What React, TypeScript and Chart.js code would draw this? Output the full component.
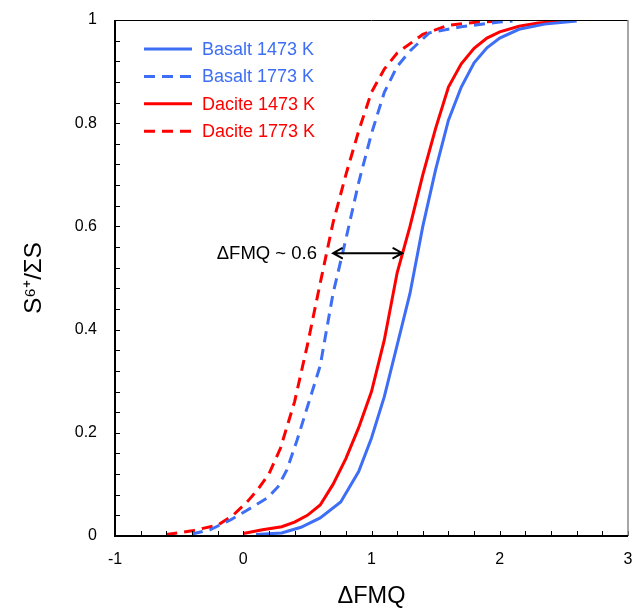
import React, { useEffect, useRef } from 'react';
import { Chart, registerables } from 'chart.js';

Chart.register(...registerables);

const FONT = '"Liberation Sans", Arial, Helvetica, sans-serif';
const BLUE = '#3D6EF5';
const RED = '#FF0000';

// ---- Data ----
const seriesLabels = ['Basalt 1473 K', 'Basalt 1773 K', 'Dacite 1473 K', 'Dacite 1773 K'];

const basalt1473X = [0.1, 0.3, 0.45, 0.6, 0.76, 0.9, 1.0, 1.1, 1.2, 1.3, 1.4, 1.5, 1.6, 1.7, 1.8, 1.9, 2.0, 2.15, 2.35, 2.6];
const basalt1473Y = [0.003, 0.006, 0.017, 0.035, 0.066, 0.125, 0.19, 0.27, 0.37, 0.47, 0.6, 0.71, 0.806, 0.87, 0.917, 0.946, 0.965, 0.982, 0.992, 0.998];

const basalt1773X = [-0.4, -0.26, -0.1, 0.03, 0.19, 0.27, 0.34, 0.42, 0.5, 0.6, 0.7, 0.8, 0.9, 1.0, 1.1, 1.2, 1.3, 1.45, 1.7, 2.0, 2.1];
const basalt1773Y = [0.004, 0.012, 0.031, 0.05, 0.074, 0.095, 0.128, 0.186, 0.25, 0.33, 0.47, 0.575, 0.685, 0.78, 0.86, 0.91, 0.94, 0.975, 0.987, 0.996, 0.998];

const dacite1473X = [0.0, 0.15, 0.3, 0.4, 0.5, 0.6, 0.7, 0.8, 0.9, 1.0, 1.1, 1.2, 1.3, 1.4, 1.5, 1.6, 1.7, 1.8, 1.9, 2.0, 2.15, 2.3, 2.55];
const dacite1473Y = [0.005, 0.012, 0.018, 0.027, 0.04, 0.06, 0.1, 0.15, 0.21, 0.28, 0.38, 0.51, 0.6, 0.7, 0.79, 0.87, 0.915, 0.945, 0.965, 0.977, 0.988, 0.994, 0.999];

const dacite1773X = [-0.6, -0.4, -0.2, -0.08, 0.03, 0.11, 0.2, 0.29, 0.4, 0.5, 0.6, 0.7, 0.8, 0.9, 1.0, 1.1, 1.2, 1.4, 1.6, 1.8, 2.0];
const dacite1773Y = [0.003, 0.01, 0.021, 0.04, 0.066, 0.089, 0.12, 0.17, 0.26, 0.37, 0.49, 0.607, 0.7, 0.785, 0.86, 0.905, 0.936, 0.972, 0.99, 0.995, 0.998];

const xTickLabels = ['-1', '0', '1', '2', '3'];
const yTickLabels = ['0', '0.2', '0.4', '0.6', '0.8', '1'];

const xTitle = 'ΔFMQ';
const yTitle = 'S⁶⁺/ΣS';

const annotationText = 'ΔFMQ ~ 0.6';
const arrowStartX = 0.7;
const arrowEndX = 1.24;
const arrowY = 0.548;

const toPoints = (xs: number[], ys: number[]) => xs.map((x, i) => ({ x, y: ys[i] }));

const isMultiple = (v: number, step: number) => Math.abs(v / step - Math.round(v / step)) < 1e-6;

const decorPlugin = {
  id: 'decor',
  afterDatasetsDraw(chart: any) {
    const { ctx, chartArea: a, scales } = chart;
    const xs = scales.x;
    const ys = scales.y;
    ctx.save();

    // inward tick marks
    ctx.strokeStyle = '#000';
    ctx.lineWidth = 1;
    xs.ticks.forEach((t: any, i: number) => {
      const px = Math.round(xs.getPixelForTick(i)) + 0.5;
      ctx.beginPath();
      ctx.moveTo(px, a.bottom);
      ctx.lineTo(px, a.bottom - 5);
      ctx.stroke();
    });
    ys.ticks.forEach((t: any, i: number) => {
      const py = Math.round(ys.getPixelForTick(i)) + 0.5;
      ctx.beginPath();
      ctx.moveTo(a.left, py);
      ctx.lineTo(a.left + 5, py);
      ctx.stroke();
    });

    // frame
    ctx.lineWidth = 1;
    ctx.strokeStyle = '#000';
    ctx.beginPath();
    ctx.moveTo(a.left, a.top + 0.5);
    ctx.lineTo(a.right, a.top + 0.5);
    ctx.stroke();
    ctx.strokeStyle = '#8a8a8a';
    ctx.lineWidth = 1.5;
    ctx.beginPath();
    ctx.moveTo(a.right, a.top);
    ctx.lineTo(a.right, a.bottom);
    ctx.stroke();
    ctx.strokeStyle = '#000';
    ctx.lineWidth = 2;
    ctx.beginPath();
    ctx.moveTo(a.left, a.top);
    ctx.lineTo(a.left, a.bottom);
    ctx.lineTo(a.right, a.bottom);
    ctx.stroke();

    // double arrow annotation
    const p1 = xs.getPixelForValue(arrowStartX);
    const p2 = xs.getPixelForValue(arrowEndX);
    const py = ys.getPixelForValue(arrowY);
    ctx.strokeStyle = '#000';
    ctx.lineWidth = 2;
    ctx.lineCap = 'round';
    ctx.beginPath();
    ctx.moveTo(p1, py);
    ctx.lineTo(p2, py);
    ctx.moveTo(p1 + 9, py - 5);
    ctx.lineTo(p1, py);
    ctx.lineTo(p1 + 9, py + 5);
    ctx.moveTo(p2 - 9, py - 5);
    ctx.lineTo(p2, py);
    ctx.lineTo(p2 - 9, py + 5);
    ctx.stroke();
    ctx.fillStyle = '#000';
    ctx.font = `18.5px ${FONT}`;
    ctx.textAlign = 'right';
    ctx.textBaseline = 'middle';
    ctx.fillText(annotationText, p1 - 16, py + 1);

    // legend
    chart.data.datasets.forEach((ds: any, i: number) => {
      const rowY = a.top + 29 + i * 27.4;
      const lx = a.left + 29;
      ctx.strokeStyle = ds.borderColor;
      ctx.lineWidth = 3;
      ctx.lineCap = 'butt';
      ctx.setLineDash(ds.borderDash || []);
      ctx.beginPath();
      ctx.moveTo(lx, rowY);
      ctx.lineTo(lx + 48, rowY);
      ctx.stroke();
      ctx.setLineDash([]);
      ctx.fillStyle = ds.borderColor;
      ctx.font = `18px ${FONT}`;
      ctx.textAlign = 'left';
      ctx.textBaseline = 'middle';
      ctx.fillText(ds.label, lx + 58, rowY + 1);
    });

    ctx.restore();
  },
};

export default function App() {
  const ref = useRef<HTMLCanvasElement>(null);

  useEffect(() => {
    if (!ref.current) return;
    const makeDs = (label: string, xs: number[], ys: number[], color: string, dashed: boolean) => ({
      label,
      data: toPoints(xs, ys),
      borderColor: color,
      backgroundColor: color,
      borderWidth: 3,
      borderDash: dashed ? [11, 7] : [],
      pointRadius: 0,
      showLine: true,
      tension: 0,
      fill: false,
    });

    const chart = new Chart(ref.current, {
      type: 'scatter',
      data: {
        datasets: [
          makeDs(seriesLabels[0], basalt1473X, basalt1473Y, BLUE, false),
          makeDs(seriesLabels[1], basalt1773X, basalt1773Y, BLUE, true),
          makeDs(seriesLabels[2], dacite1473X, dacite1473Y, RED, false),
          makeDs(seriesLabels[3], dacite1773X, dacite1773Y, RED, true),
        ],
      },
      options: {
        animation: false,
        responsive: true,
        maintainAspectRatio: false,
        layout: { padding: { left: 0, right: 12, top: 20, bottom: 0 } },
        plugins: {
          legend: { display: false },
          tooltip: { enabled: false },
        },
        scales: {
          x: {
            type: 'linear',
            min: -1,
            max: 3,
            grid: { display: false, drawTicks: false },
            border: { display: false },
            ticks: {
              stepSize: 0.2,
              autoSkip: false,
              maxRotation: 0,
              padding: 14,
              color: '#000',
              font: { family: FONT, size: 16 },
              callback: (v: any) => (isMultiple(Number(v), 1) ? xTickLabels[Math.round(Number(v)) + 1] : ''),
            },
            title: {
              display: true,
              text: xTitle,
              color: '#000',
              font: { family: FONT, size: 23.5, lineHeight: 1 },
              padding: { top: 0, bottom: 0 },
            },
            afterFit: (s: any) => {
              s.height = 72;
              s.paddingLeft = 0;
              s.paddingRight = 0;
            },
          },
          y: {
            type: 'linear',
            min: 0,
            max: 1,
            grid: { display: false, drawTicks: false },
            border: { display: false },
            ticks: {
              stepSize: 0.04,
              autoSkip: false,
              padding: 18,
              color: '#000',
              font: { family: FONT, size: 16 },
              callback: (v: any) => (isMultiple(Number(v), 0.2) ? yTickLabels[Math.round(Number(v) * 5)] : ''),
            },
            title: {
              display: true,
              text: yTitle,
              color: '#000',
              font: { family: FONT, size: 24, lineHeight: 1 },
              padding: { top: 22, bottom: 0 },
            },
            afterFit: (s: any) => {
              s.width = 115;
              s.paddingTop = 0;
              s.paddingBottom = 0;
            },
          },
        },
      } as any,
      plugins: [decorPlugin],
    });
    return () => chart.destroy();
  }, []);

  return (
    <div style={{ position: 'fixed', left: 0, top: 0, width: 640, height: 608, background: '#fff' }}>
      <canvas ref={ref} />
    </div>
  );
}
